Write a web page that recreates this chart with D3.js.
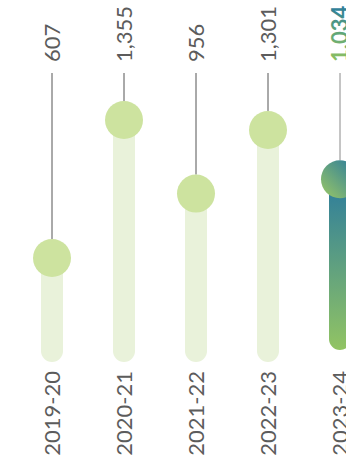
<!DOCTYPE html>
<html>
<head>
<meta charset="utf-8">
<script src="https://cdn.jsdelivr.net/npm/d3@7"></script>
<style>
  html, body { margin: 0; padding: 0; background: #fff; }
  svg { display: block; }
</style>
</head>
<body>
<svg id="chart" width="346" height="459"></svg>
<script>
// Fiscal years and their totals
const years = ["2019-20", "2020-21", "2021-22", "2022-23", "2023-24"];
const totals = [607, 1355, 956, 1301, 1034];
const valueLabels = ["607", "1,355", "956", "1,301", "1,034"];

const svg = d3.select("#chart");

const x = d3.scalePoint().domain(years).range([52, 340]);
const y = d3.scaleLinear().domain([0, 1355]).range([370, 120]);

const barW = 22, r = 19;
const lastYear = years[years.length - 1];
const font = "Lato, 'Open Sans', sans-serif";

const defs = svg.append("defs");
const barGrad = defs.append("linearGradient").attr("id", "barGrad")
  .attr("x1", 0).attr("y1", 0).attr("x2", 0).attr("y2", 1);
barGrad.append("stop").attr("offset", "0%").attr("stop-color", "#2b7b9d");
barGrad.append("stop").attr("offset", "100%").attr("stop-color", "#92c463");

const dotGrad = defs.append("linearGradient").attr("id", "dotGrad")
  .attr("x1", 1).attr("y1", 0).attr("x2", 0).attr("y2", 1);
dotGrad.append("stop").attr("offset", "0%").attr("stop-color", "#26789e");
dotGrad.append("stop").attr("offset", "100%").attr("stop-color", "#9bc865");

const textGrad = defs.append("linearGradient").attr("id", "textGrad")
  .attr("x1", 0).attr("y1", 0).attr("x2", 1).attr("y2", 0);
textGrad.append("stop").attr("offset", "0%").attr("stop-color", "#8fc15f");
textGrad.append("stop").attr("offset", "55%").attr("stop-color", "#5ea57a");
textGrad.append("stop").attr("offset", "100%").attr("stop-color", "#2a7b9c");

const data = years.map((d, i) => ({ year: d, value: totals[i], label: valueLabels[i] }));

const g = svg.append("g");

// leader lines from value label down to each dot
g.selectAll("line.lead").data(data).join("line")
  .attr("class", "lead")
  .attr("x1", d => x(d.year)).attr("x2", d => x(d.year))
  .attr("y1", 73).attr("y2", d => y(d.value) - r)
  .attr("stroke", d => d.year === lastYear ? "#8a8a8a" : "#555")
  .attr("stroke-width", 1);

// rounded bars
g.selectAll("rect.bar").data(data).join("rect")
  .attr("class", "bar")
  .attr("x", d => x(d.year) - barW / 2)
  .attr("width", barW)
  .attr("y", d => y(d.value))
  .attr("height", d => (d.year === lastYear ? 350 : 362) - y(d.value))
  .attr("rx", barW / 2)
  .attr("fill", d => d.year === lastYear ? "url(#barGrad)" : "#e9f2da");

// dots at each value
g.selectAll("circle.dot").data(data).join("circle")
  .attr("class", "dot")
  .attr("cx", d => x(d.year))
  .attr("cy", d => y(d.value))
  .attr("r", r)
  .attr("fill", d => d.year === lastYear ? "url(#dotGrad)" : "#cde39f");

// value labels, rotated
g.selectAll("text.val").data(data).join("text")
  .attr("class", "val")
  .attr("transform", d => `translate(${x(d.year)},62) rotate(-90)`)
  .attr("dy", "0.36em")
  .attr("text-anchor", "start")
  .attr("font-family", font)
  .attr("font-size", 22)
  .attr("font-weight", d => d.year === lastYear ? 700 : 400)
  .attr("fill", d => d.year === lastYear ? "url(#textGrad)" : "#5c5c5c")
  .text(d => d.label);

// year labels, rotated
g.selectAll("text.yr").data(data).join("text")
  .attr("class", "yr")
  .attr("transform", d => `translate(${x(d.year)},371) rotate(-90)`)
  .attr("dy", "0.36em")
  .attr("text-anchor", "end")
  .attr("font-family", font)
  .attr("font-size", 22)
  .attr("fill", "#5c5c5c")
  .text(d => d.year);
</script>
</body>
</html>
